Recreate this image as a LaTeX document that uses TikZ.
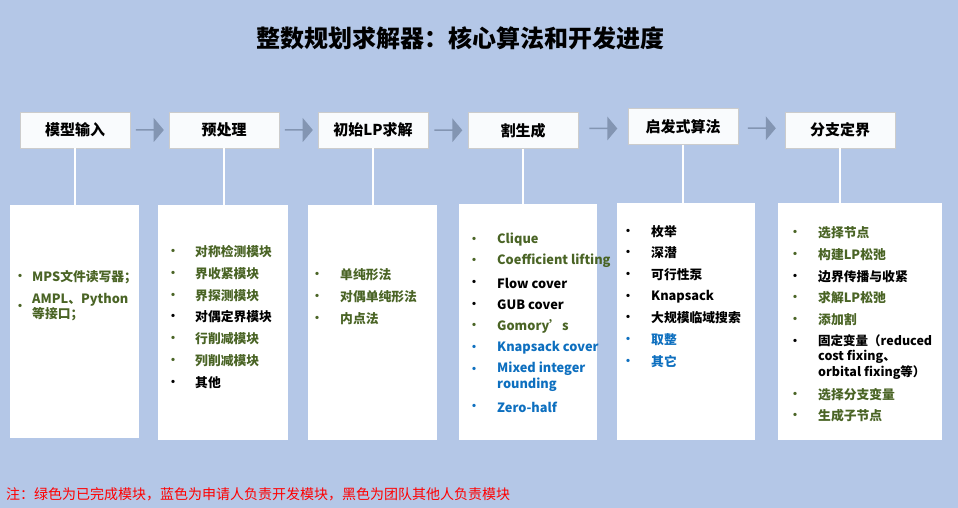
\documentclass[tikz,border=0pt]{standalone}
\usepackage{fontspec}
\setmainfont{Noto Sans CJK SC}
\usetikzlibrary{shapes.arrows,calc}
\definecolor{bg}{HTML}{B4C7E7}
\definecolor{gr}{HTML}{4A6425}
\definecolor{bl}{HTML}{0D6FBF}
\definecolor{ar}{HTML}{8395B2}
\tikzset{
 hdr/.style={draw=gray!40,fill=white!92!bg,minimum width=110pt,minimum height=36pt,font=\fontsize{15}{17}\selectfont\bfseries,inner sep=0pt},
 pan/.style={fill=white,draw=none},
 conn/.style={draw=white,line width=1.2pt},
 flow/.style={single arrow,fill=ar,draw=none,minimum height=28pt,minimum width=24pt,single arrow head extend=3pt,single arrow tip angle=100,inner sep=0pt},
 txt/.style={anchor=west,inner sep=0pt,font=\fontsize{12.8}{15.5}\selectfont\bfseries,align=left},
 bul/.style={inner sep=0pt,font=\fontsize{12}{14}\selectfont\bfseries}
}
\newcommand\itm[6]{\node[bul,text=#4] (#1b) at (#2,#3) {•};\node[txt,text=#4] (#1) at (#5,#3) {#6};}
\begin{document}
\begin{tikzpicture}[x=1pt,y=-1pt]
\fill[bg] (0,0) rectangle (958,508);
\useasboundingbox (0,0) rectangle (958,508);
\node[font=\fontsize{24}{26}\selectfont\bfseries] (title) at (460,38) {整数规划求解器：核心算法和开发进度};
% panels
\fill[pan] (10,205) rectangle (139,438);
\fill[pan] (158,205) rectangle (288,440);
\fill[pan] (308,205) rectangle (437,440);
\fill[pan] (459,204) rectangle (597,440);
\fill[pan] (617,203) rectangle (755,440);
\fill[pan] (778,203) rectangle (942,440);
\coordinate (t1) at (75,205); \coordinate (t2) at (224,205); \coordinate (t3) at (373,205);
\coordinate (t4) at (523,204); \coordinate (t5) at (683,203); \coordinate (t6) at (840,203);
% headers
\node[hdr] (h1) at (75,130) {模型输入};
\node[hdr] (h2) at (224,130) {预处理};
\node[hdr] (h3) at (373,130) {初始LP求解};
\node[hdr] (h4) at (523,130.5) {割生成};
\node[hdr] (h5) at (683,126.5) {启发式算法};
\node[hdr] (h6) at (840,130) {分支定界};
\foreach \i in {1,...,6}{\draw[conn] (h\i.south) -- (t\i);}
\foreach \a/\b in {1/2,2/3,3/4,4/5,5/6}{\node[flow] (f\a) at ($ (h\a.east)!0.5!(h\b.west) $) {};}
% panel 1
\itm{a1}{20}{277}{gr}{32}{MPS文件读写器；}
\itm{a2}{20}{307}{gr}{32}{AMPL、Python\\等接口；}
% panel 2
\itm{b1}{173}{252}{gr}{195}{对称检测模块}
\itm{b2}{173}{274}{gr}{195}{界收紧模块}
\itm{b3}{173}{296}{gr}{195}{界探测模块}
\itm{b4}{173}{317}{black}{195}{对偶定界模块}
\itm{b5}{173}{339}{gr}{195}{行削减模块}
\itm{b6}{173}{361}{gr}{195}{列削减模块}
\itm{b7}{173}{383}{black}{195}{其他}
% panel 3
\itm{c1}{317}{275}{gr}{340}{单纯形法}
\itm{c2}{317}{297}{gr}{340}{对偶单纯形法}
\itm{c3}{317}{319}{gr}{340}{内点法}
% panel 4
\itm{d1}{474}{240}{gr}{497}{Clique}
\itm{d2}{474}{261}{gr}{497}{Coefficient lifting}
\itm{d3}{474}{283}{black}{497}{Flow cover}
\itm{d4}{474}{305}{black}{497}{GUB cover}
\itm{d5}{474}{326}{gr}{497}{Gomory's}
\itm{d6}{474}{348}{bl}{497}{Knapsack cover}
\node[bul,text=bl] (d7b) at (474,370) {•};
\node[txt,text=bl,anchor=north west] (d7) at (497,362) {Mixed integer\\rounding};
\itm{d8}{474}{407}{bl}{497}{Zero-half}
% panel 5
\itm{e1}{628}{232}{black}{651}{枚举}
\itm{e2}{628}{253}{black}{651}{深潜}
\itm{e3}{628}{275}{black}{651}{可行性泵}
\itm{e4}{628}{297}{black}{651}{Knapsack}
\itm{e5}{628}{318}{black}{651}{大规模临域搜索}
\itm{e6}{628}{340}{bl}{651}{取整}
\itm{e7}{628}{362}{bl}{651}{其它}
% panel 6
\itm{g1}{795}{233}{gr}{818}{选择节点}
\itm{g2}{795}{255}{gr}{818}{构建LP松弛}
\itm{g3}{795}{277}{black}{818}{边界传播与收紧}
\itm{g4}{795}{298}{gr}{818}{求解LP松弛}
\itm{g5}{795}{320}{gr}{818}{添加割}
\node[bul] (g6b) at (795,342) {•};
\node[txt,anchor=north west,font=\fontsize{12.5}{15.5}\selectfont\bfseries] (g6) at (818,334) {固定变量（reduced\\cost fixing、\\orbital fixing等）};
\itm{g7}{795}{395}{gr}{818}{选择分支变量}
\itm{g8}{795}{416}{gr}{818}{生成子节点}
\node[anchor=west,inner sep=0pt,text=red,font=\fontsize{14}{16}\selectfont] (note) at (6,494) {注：绿色为已完成模块，蓝色为申请人负责开发模块，黑色为团队其他人负责模块};
\end{tikzpicture}
\end{document}
